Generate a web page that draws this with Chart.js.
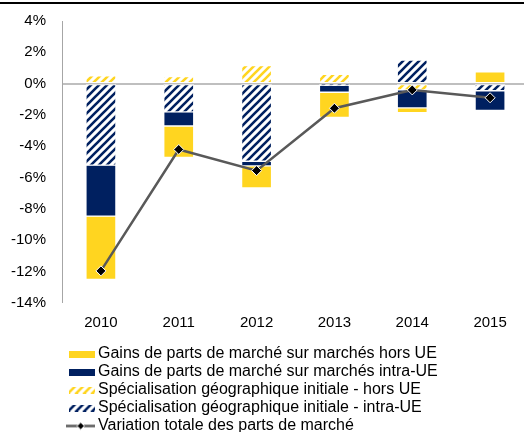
<!DOCTYPE html>
<html>
<head>
<meta charset="utf-8">
<script src="https://cdn.jsdelivr.net/npm/chart.js@4.4.0/dist/chart.umd.min.js"></script>
<style>
  html, body { margin: 0; padding: 0; background: #fff; overflow: hidden; width: 524px; height: 432px; }
  #wrap { position: relative; width: 524px; height: 432px; overflow: hidden; }
  #chart { position: absolute; left: 0; top: 0; }
  #topRule { position: absolute; left: 0; top: 2px; width: 524px; height: 2px; background: #000; }
</style>
</head>
<body>
<div id="wrap">
  <canvas id="chart" width="535" height="447"></canvas>
  <div id="topRule"></div>
</div>
<script>
// data (percentage points)
const years = ['2010', '2011', '2012', '2013', '2014', '2015'];
const gainsHorsUE  = [-4.05, -2.0, -1.4, -1.6, -0.3, 0.75];
const gainsIntraUE = [-3.25, -0.9, -0.3, -0.45, -1.15, -1.25];
const specHorsUE   = [0.5, 0.45, 1.15, 0.6, -0.4, 0];
const specIntraUE  = [-5.2, -1.8, -4.95, -0.1, 1.5, -0.45];
const variationTotale = [-11.95, -4.2, -5.55, -1.57, -0.4, -0.9];

const yMin = -14, yMax = 4, yStep = 2;

const labels = {
    gainsHorsUE: 'Gains de parts de marché sur marchés hors UE',
    gainsIntraUE: 'Gains de parts de marché sur marchés intra-UE',
    specHorsUE: 'Spécialisation géographique initiale - hors UE',
    specIntraUE: 'Spécialisation géographique initiale - intra-UE',
    variation: 'Variation totale des parts de marché'
};

const YELLOW = '#FFD520';
const NAVY = '#002060';
const GREY = '#595959';
const FONT = "'Liberation Sans', Arial, sans-serif";

// diagonal "/" hatch on white
const makeHatch = (color) => {
    const c = document.createElement('canvas');
    c.width = 8; c.height = 8;
    const g = c.getContext('2d');
    g.fillStyle = '#fff';
    g.fillRect(0, 0, 8, 8);
    g.strokeStyle = color;
    g.lineWidth = 2.6;
    g.beginPath();
    g.moveTo(-4, 4); g.lineTo(4, -4);
    g.moveTo(0, 8); g.lineTo(8, 0);
    g.moveTo(4, 12); g.lineTo(12, 4);
    g.stroke();
    return g.createPattern(c, 'repeat');
};

const hatchYellow = makeHatch(YELLOW);
const hatchNavy = makeHatch(NAVY);

// legend swatches (drawn as point-style images)
const boxSwatch = (fill) => {
    const c = document.createElement('canvas');
    c.width = 36; c.height = 7;
    const g = c.getContext('2d');
    g.fillStyle = fill;
    g.fillRect(10, 0, 26, 7);
    return c;
};

const lineSwatch = () => {
    const c = document.createElement('canvas');
    c.width = 36; c.height = 9;
    const g = c.getContext('2d');
    g.strokeStyle = GREY;
    g.lineWidth = 2.5;
    g.beginPath();
    g.moveTo(7, 4.5); g.lineTo(36, 4.5);
    g.stroke();
    g.fillStyle = '#000';
    g.strokeStyle = '#fff';
    g.lineWidth = 1;
    g.beginPath();
    g.moveTo(21.7, 0.8); g.lineTo(25.4, 4.5); g.lineTo(21.7, 8.2); g.lineTo(18, 4.5);
    g.closePath();
    g.fill(); g.stroke();
    return c;
};

const barDefaults = {
    type: 'bar',
    stack: 'bars',
    borderColor: '#fff',
    borderWidth: 1,
    borderSkipped: false,
    barThickness: 30,
    order: 1
};

const datasets = [
    { ...barDefaults, label: labels.specHorsUE, data: specHorsUE, backgroundColor: hatchYellow,
      swatch: boxSwatch(hatchYellow), legendRank: 2 },
    { ...barDefaults, label: labels.specIntraUE, data: specIntraUE, backgroundColor: hatchNavy,
      swatch: boxSwatch(hatchNavy), legendRank: 3 },
    { ...barDefaults, label: labels.gainsIntraUE, data: gainsIntraUE, backgroundColor: NAVY,
      swatch: boxSwatch(NAVY), legendRank: 1 },
    { ...barDefaults, label: labels.gainsHorsUE, data: gainsHorsUE, backgroundColor: YELLOW,
      swatch: boxSwatch(YELLOW), legendRank: 0 },
    {
        type: 'line',
        stack: 'total',
        label: labels.variation,
        data: variationTotale,
        borderColor: GREY,
        borderWidth: 2.5,
        pointStyle: 'rectRot',
        pointRadius: 5,
        pointBackgroundColor: '#000',
        pointBorderColor: '#fff',
        pointBorderWidth: 1,
        tension: 0,
        order: 0,
        swatch: lineSwatch(),
        legendRank: 4
    }
];

const ctx = document.getElementById('chart').getContext('2d');
new Chart(ctx, {
    data: { labels: years, datasets },
    options: {
        responsive: false,
        animation: false,
        layout: { padding: { left: 10, right: 2, top: 21, bottom: 3 } },
        scales: {
            x: {
                stacked: true,
                grid: { display: false, drawTicks: false },
                border: { display: false },
                ticks: { color: '#000', font: { family: FONT, size: 15 }, padding: 11 },
                afterFit: (scale) => { scale.height = 41; }
            },
            y: {
                stacked: true,
                min: yMin,
                max: yMax,
                ticks: {
                    stepSize: yStep,
                    color: '#000',
                    font: { family: FONT, size: 15 },
                    padding: 16,
                    callback: (v) => v + '%'
                },
                grid: {
                    drawTicks: false,
                    color: (c) => (c.tick && c.tick.value === 0 ? '#bfbfbf' : 'rgba(0,0,0,0)'),
                    lineWidth: (c) => (c.tick && c.tick.value === 0 ? 2 : 0)
                },
                border: { display: true, color: '#a6a6a6', width: 1 },
                afterFit: (scale) => {
                    scale.width = 52;
                    scale.paddingTop = 0;
                    scale.paddingBottom = 0;
                }
            }
        },
        plugins: {
            tooltip: { enabled: false },
            legend: {
                position: 'bottom',
                align: 'start',
                fullSize: false,
                labels: {
                    usePointStyle: true,
                    pointStyleWidth: 26,
                    padding: 2,
                    color: '#000',
                    font: { family: FONT, size: 16 },
                    generateLabels: (chart) => chart.data.datasets
                        .map((ds, i) => ({
                            text: ds.label,
                            pointStyle: ds.swatch,
                            fillStyle: 'rgba(0,0,0,0)',
                            strokeStyle: 'rgba(0,0,0,0)',
                            lineWidth: 0,
                            fontColor: '#000',
                            hidden: !chart.isDatasetVisible(i),
                            datasetIndex: i,
                            rank: ds.legendRank
                        }))
                        .sort((a, b) => a.rank - b.rank)
                }
            }
        }
    }
});
</script>
</body>
</html>
